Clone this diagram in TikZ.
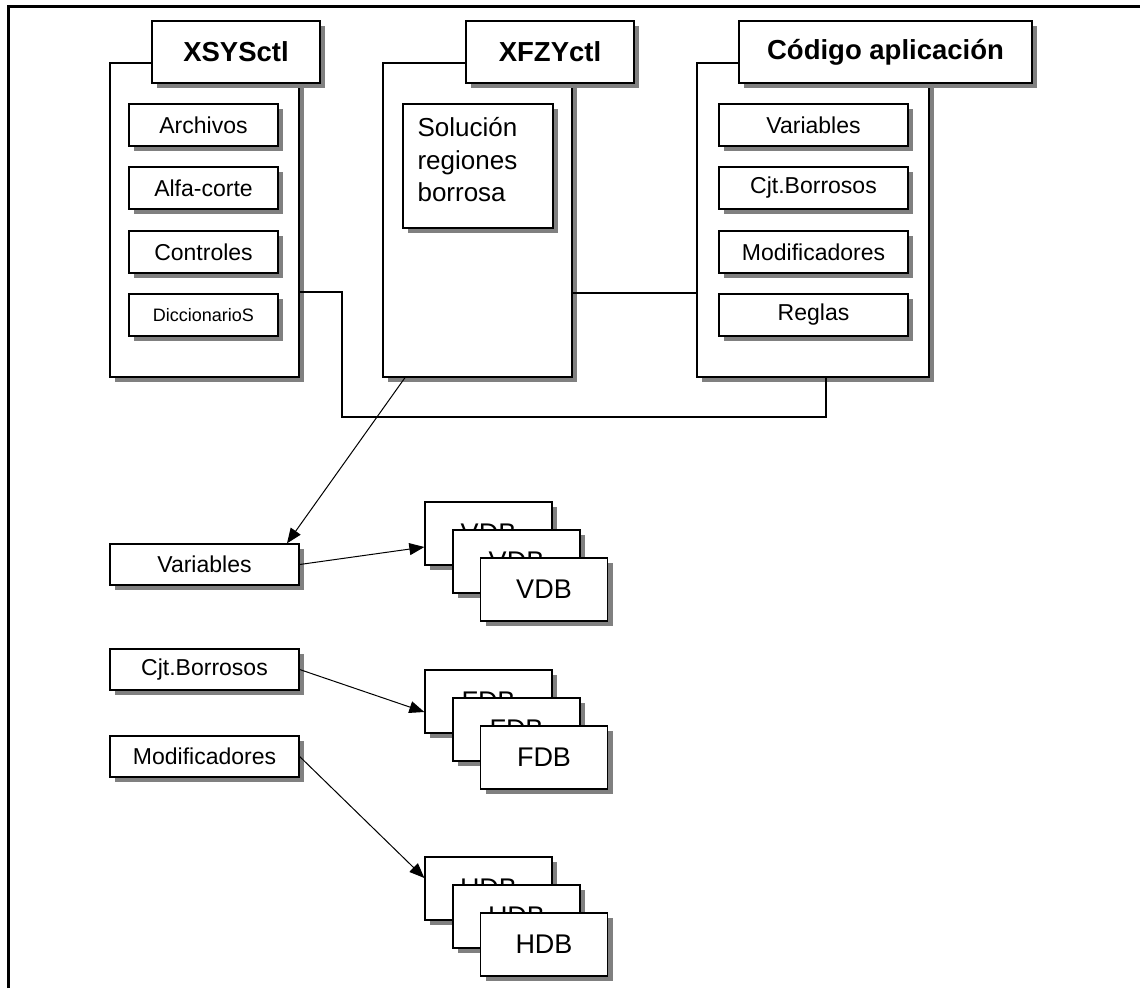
\documentclass[tikz,border=0pt]{standalone}
\usepackage{fontspec}
\setmainfont{Liberation Sans}
\usetikzlibrary{arrows.meta,shadows}

\begin{document}
\begin{tikzpicture}[x=1pt, y=-1pt,
  font=\fontsize{23}{28}\selectfont,
  box/.style={draw, fill=white, line width=1.3pt, inner sep=0pt,
    drop shadow={shadow xshift=5pt, shadow yshift=-5pt, fill=black!50, opacity=1}},
  ctl/.style={box, minimum width=189pt, minimum height=314pt},
  title/.style={box, font=\fontsize{27.5}{32}\selectfont\bfseries,
    minimum width=168pt, minimum height=62pt},
  item/.style={box, minimum width=149pt, minimum height=42pt},
  ref/.style={box, minimum width=189pt, minimum height=41pt},
  db/.style={box, font=\fontsize{27}{31}\selectfont,
    minimum width=127pt, minimum height=63pt},
  link/.style={line width=1.3pt},
  arrow/.style={-{Triangle[length=15pt,width=12pt]}, line width=1pt}]
\useasboundingbox (0,0) rectangle (1140,988);
\draw[line width=3pt] (8,988) -- (8,6) -- (1140,6);

% XSYSctl
\node[ctl] (xsys) at (204.5,220) {};
\node[title] (xsysT) at (236,52) {XSYSctl};
\node[item] (arch) at (203.5,125) {Archivos};
\node[item] (alfa) at (203.5,188) {Alfa-corte};
\node[item] (ctrl) at (203.5,252) {Controles};
\node[item, font=\fontsize{18}{22}\selectfont] (dicc) at (203.5,315) {DiccionarioS};

% XFZYctl
\node[ctl] (xfzy) at (477.5,220) {};
\node[title] (xfzyT) at (550,52) {XFZYctl};
\node[box, minimum width=150pt, minimum height=124pt] (sol) at (478,166) {};
\node[anchor=north west, align=left, inner sep=0pt,
  font=\fontsize{26}{32.5}\selectfont] (solT)
  at ([xshift=15pt,yshift=-14pt]sol.north west) {Solución\\regiones\\borrosa};

% Codigo aplicacion
\node[ctl, minimum width=232pt] (code) at (813,220) {};
\node[title, minimum width=293pt] (codeT) at (885.5,52) {Código aplicación};
\node[item, minimum width=189pt] (cvar) at (813.5,125) {Variables};
\node[item, minimum width=189pt] (ccjt) at (813.5,188) {Cjt.Borrosos};
\node[item, minimum width=189pt] (cmod) at (813.5,252) {Modificadores};
\node[item, minimum width=189pt] (creg) at (813.5,315) {Reglas};

\coordinate (bus) at (342,417);
\draw[link] ([yshift=-72pt]xsys.east) -| (bus) -| ([xshift=13pt]code.south);
\draw[link] ([yshift=-73pt]xfzy.east) -- ([yshift=-73pt]code.west);

% bases de datos
\node[ref] (var) at (204.5,564.5) {Variables};
\node[ref] (cjt) at (204.5,669.5) {Cjt.Borrosos};
\node[ref] (mod) at (204.5,756.5) {Modificadores};
\foreach \t/\y in {VDB/533.5, FDB/701.5, HDB/888.5} {
  \node[db] (\t-1) at (488.5,\y) {\t};
  \node[db] (\t-2) at (516.5,\y+28) {\t};
  \node[db] (\t-3) at (544,\y+56) {\t};
}

\draw[arrow] ([xshift=-72.5pt]xfzy.south) -- ([xshift=82.5pt]var.north);
\draw[arrow] (var.east) -- ([yshift=-13.5pt]VDB-1.west);
\draw[arrow] (cjt.east) -- ([yshift=-10.5pt]FDB-1.west);
\draw[arrow] (mod.east) -- ([yshift=10.5pt]HDB-1.west);
\end{tikzpicture}
\end{document}
